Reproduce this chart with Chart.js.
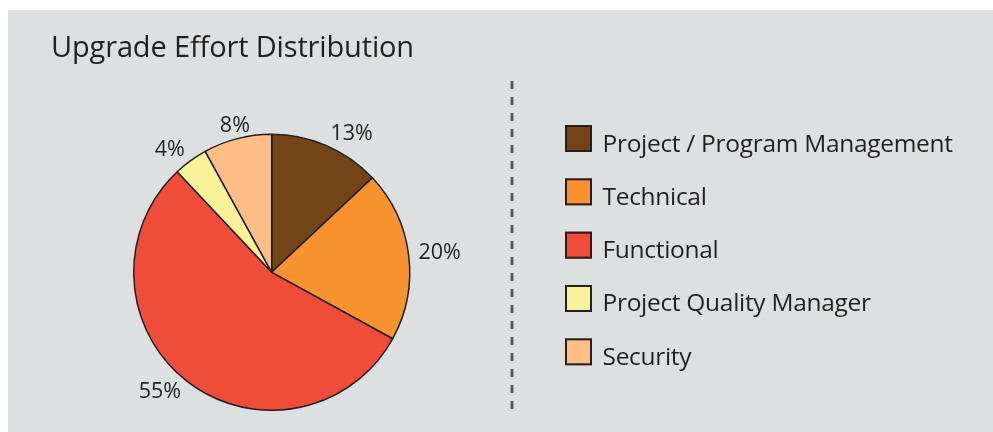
<!DOCTYPE html>
<html><head><meta charset="utf-8">
<script src="https://cdn.jsdelivr.net/npm/chart.js@4.4.1/dist/chart.umd.min.js"></script>
<style>html,body{margin:0;padding:0;background:#fff;overflow:hidden}
#wrap{position:absolute;left:0;top:0;width:993px;height:432px}</style>
</head><body><div id="wrap"><canvas id="c" width="993" height="432"></canvas></div>
<script>
const chartTitle = 'Upgrade Effort Distribution';
const categories = ['Project / Program Management', 'Technical', 'Functional', 'Project Quality Manager', 'Security'];
const effortPercent = [13, 20, 55, 4, 8];
const sliceColors = ['#744419', '#f7942f', '#ef4c3a', '#f8f39b', '#fdbf87'];

const FONT = '"Open Sans", "Noto Sans", sans-serif';
const INK = '#231f20';
const W = 993, H = 432;
const CX = 271.7, CY = 272.3, R = 138;

const decor = {
  id: 'decor',
  beforeDraw(chart) {
    const ctx = chart.ctx;
    ctx.save();
    ctx.fillStyle = '#ffffff';
    ctx.fillRect(0, 0, W, H);
    ctx.fillStyle = '#dde0e1';
    ctx.fillRect(8, 10, W - 8, H - 10);
    ctx.restore();
  },
  afterDatasetsDraw(chart) {
    const ctx = chart.ctx;
    const meta = chart.getDatasetMeta(0);
    ctx.save();
    // title
    ctx.fillStyle = INK;
    ctx.font = '29px ' + FONT;
    ctx.letterSpacing = '-0.15px';
    ctx.textAlign = 'left';
    ctx.textBaseline = 'alphabetic';
    ctx.fillText(chartTitle, 51, 56.7);

    // percent labels
    ctx.font = '21.5px ' + FONT;
    ctx.letterSpacing = '0px';
    meta.data.forEach((arc, i) => {
      const p = arc.getProps(['x', 'y', 'startAngle', 'endAngle', 'outerRadius'], true);
      const mid = (p.startAngle + p.endAngle) / 2;
      const c = Math.cos(mid), s = Math.sin(mid);
      const px = p.x + c * (p.outerRadius + 10);
      const py = p.y + s * (p.outerRadius + 10);
      ctx.textAlign = c > 0.3 ? 'left' : (c < -0.3 ? 'right' : 'center');
      ctx.textBaseline = 'middle';
      ctx.fillText(chart.data.datasets[0].data[i] + '%', px, py + s * 3);
    });

    // dashed divider
    ctx.strokeStyle = '#58595b';
    ctx.lineWidth = 3;
    ctx.setLineDash([8, 8]);
    ctx.beginPath();
    ctx.moveTo(512, 81);
    ctx.lineTo(512, 409);
    ctx.stroke();
    ctx.setLineDash([]);

    // legend
    ctx.font = '24.5px ' + FONT;
    ctx.letterSpacing = '-0.3px';
    ctx.textAlign = 'left';
    ctx.textBaseline = 'alphabetic';
    chart.data.labels.forEach((lab, i) => {
      const top = 125 + i * 53.33;
      ctx.fillStyle = chart.data.datasets[0].backgroundColor[i];
      ctx.fillRect(565, top, 27, 27);
      ctx.strokeStyle = INK;
      ctx.lineWidth = 2;
      ctx.strokeRect(566, top + 1, 25, 25);
      ctx.fillStyle = INK;
      ctx.fillText(lab, 602.5, top + 26.5);
    });
    ctx.restore();
  }
};

new Chart(document.getElementById('c'), {
  type: 'pie',
  data: {
    labels: categories,
    datasets: [{
      data: effortPercent,
      backgroundColor: sliceColors,
      borderColor: INK,
      borderWidth: 1.5
    }]
  },
  options: {
    responsive: false,
    devicePixelRatio: 1,
    animation: false,
    radius: R,
    layout: {
      padding: {
        left: CX - R,
        right: W - (CX + R),
        top: CY - R,
        bottom: H - (CY + R)
      }
    },
    plugins: {
      legend: { display: false },
      tooltip: { enabled: false },
      title: { display: false }
    }
  },
  plugins: [decor]
});
</script></body></html>
